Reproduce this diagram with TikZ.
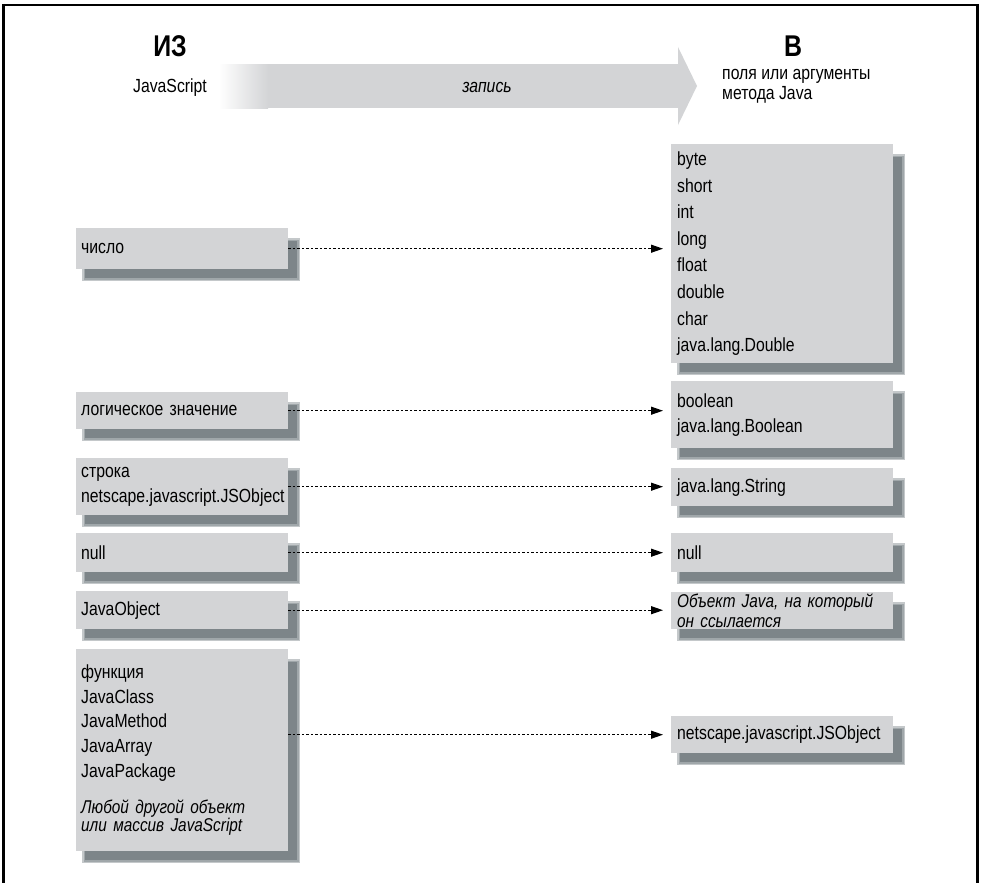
\documentclass[tikz,border=0pt]{standalone}
\usepackage{fontspec}
\setmainfont[FakeStretch=0.83]{Liberation Sans}
\usetikzlibrary{arrows.meta,calc,backgrounds}

\definecolor{boxgray}{HTML}{D3D4D6}
\definecolor{shadowA}{HTML}{C4C8CA}
\definecolor{shadowB}{HTML}{A0A7AA}
\definecolor{shadowC}{HTML}{7D8589}

\tikzset{
  lbox/.style={fill=boxgray, anchor=north west, minimum width=212pt,
    text width=202pt, align=left, inner xsep=5pt, inner ysep=0pt,
    font=\fontsize{19}{24.6}\selectfont},
  rbox/.style={lbox, minimum width=222pt, text width=210pt, inner xsep=6pt},
  conn/.style={line width=1.1pt, dash pattern=on 2.5pt off 2pt,
    -{Triangle[length=12pt,width=8pt]}, shorten >=8pt},
  headfont/.style={font=\bfseries\fontsize{30}{31}\selectfont},
  plainlabel/.style={font=\fontsize{19}{20.5}\selectfont, inner sep=0pt}
}

\newcommand{\boxshadow}[1]{%
  \fill[shadowA] ($(#1.north west)+(6,10)$) rectangle ($(#1.south east)+(12,12)$);
  \fill[shadowB] ($(#1.north west)+(7.5,11.5)$) rectangle ($(#1.south east)+(10.5,10.5)$);
  \fill[shadowC] ($(#1.north west)+(9,13)$) rectangle ($(#1.south east)+(9,9)$);
}

\begin{document}
\begin{tikzpicture}[x=1pt, y=-1pt]
\useasboundingbox (0,0) rectangle (981,883);

% frame
\draw[line width=2.2pt] (3.5,4) -- (3.5,883);
\draw[line width=1.1pt] (3,5) -- (978,5);
\draw[line width=2.2pt] (977.5,4) -- (977.5,883);

% big direction arrow
\shade[left color=white, right color=boxgray] (219,64) rectangle (268,108);
\fill[boxgray] (267.5,64) rectangle (678.5,108);
\fill[boxgray] (678,47) -- (697,86) -- (678,125) -- cycle;
\node[font=\itshape\fontsize{19}{20}\selectfont] (zap) at (487,87) {запись};

% headers
\node[headfont] (iz) at (170,46) {ИЗ};
\node[plainlabel, anchor=base] (js) at (170,92) {JavaScript};
\node[headfont] (v) at (793,46.5) {В};
\node[plainlabel, anchor=base west] (vt) at (722,79)
  {\parbox[t]{200pt}{\fontsize{19}{20.5}\selectfont поля или аргументы\\метода Java}};

% left boxes
\node[lbox, minimum height=41pt] (L1) at (76,228) {число};
\node[lbox, minimum height=37pt] (L2) at (76,392) {логическое значение};
\node[lbox, minimum height=57pt] (L3) at (76,458) {строка\\netscape.javascript.JSObject};
\node[lbox, minimum height=39pt] (L4) at (76,533) {null};
\node[lbox, minimum height=38pt] (L5) at (76,591) {JavaObject};
\node[lbox, minimum height=202pt] (L6) at (76,649)
  {функция\\JavaClass\\JavaMethod\\JavaArray\\JavaPackage\\[12pt]%
   \parbox[t]{200pt}{\itshape\fontsize{18.5}{18}\selectfont Любой другой объект\\или массив JavaScript}};

% right boxes
\node[rbox, minimum height=219pt, font=\fontsize{19}{26.6}\selectfont] (R1) at (671,144)
  {byte\\short\\int\\long\\float\\double\\char\\java.lang.Double};
\node[rbox, minimum height=67pt, font=\fontsize{19}{25}\selectfont] (R2) at (671,381)
  {boolean\\java.lang.Boolean};
\node[rbox, minimum height=38pt] (R3) at (671,468) {java.lang.String};
\node[rbox, minimum height=39pt] (R4) at (671,533) {null};
\node[rbox, minimum height=37pt, font=\itshape\fontsize{18.5}{20}\selectfont] (R5) at (671,592)
  {Объект Java, на который\\он ссылается};
\node[rbox, minimum height=37pt] (R6) at (671,716) {netscape.javascript.JSObject};

% shadows
\begin{scope}[on background layer]
  \boxshadow{L1}\boxshadow{L2}\boxshadow{L3}\boxshadow{L4}\boxshadow{L5}\boxshadow{L6}
  \boxshadow{R1}\boxshadow{R2}\boxshadow{R3}\boxshadow{R4}\boxshadow{R5}\boxshadow{R6}
\end{scope}

% connectors
\draw[conn] (L1.east) -- (L1.east -| R1.west);
\draw[conn] (L2.east) -- (L2.east -| R2.west);
\draw[conn] (L3.east) -- (L3.east -| R3.west);
\draw[conn] (L4.east) -- (R4.west);
\draw[conn] (L5.east) -- (L5.east -| R5.west);
\draw[conn] (L6.east |- R6.west) -- (R6.west);
\end{tikzpicture}
\end{document}
